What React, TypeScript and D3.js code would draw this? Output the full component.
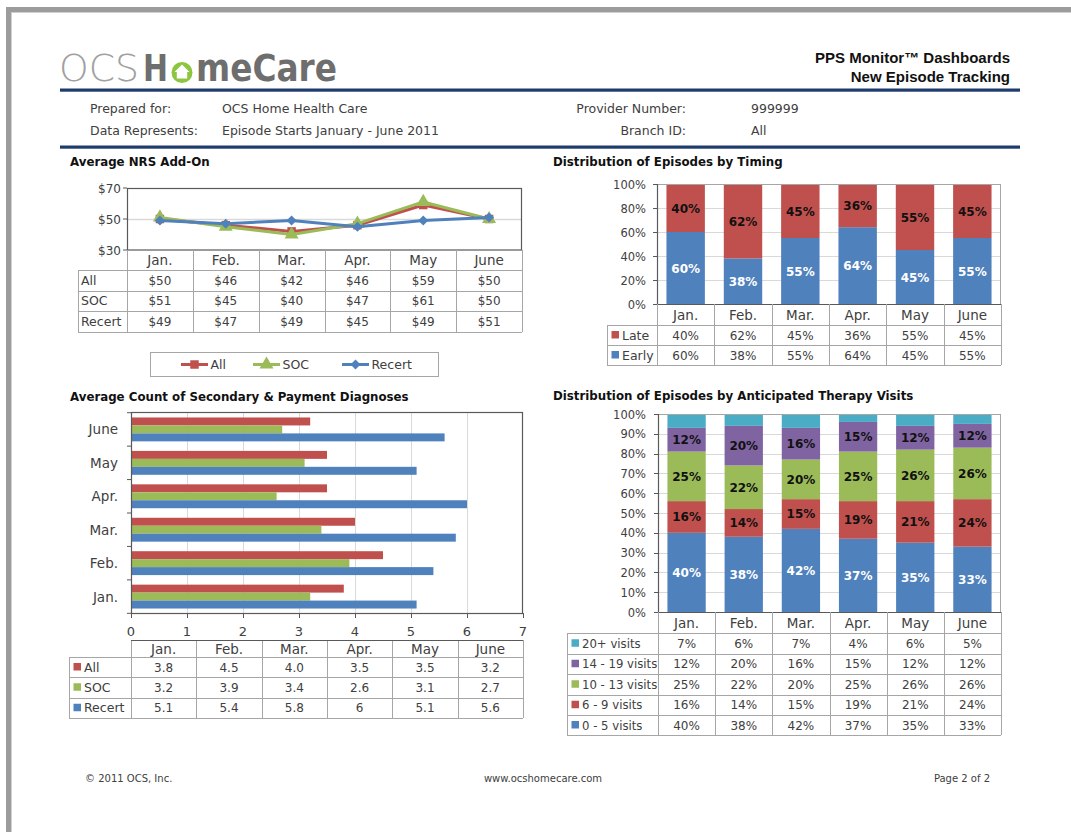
import React from 'react';
import * as d3 from 'd3';

const months = ['Jan.', 'Feb.', 'Mar.', 'Apr.', 'May', 'June'];

const nrsAll = [50, 46, 42, 46, 59, 50];
const nrsSOC = [51, 45, 40, 47, 61, 50];
const nrsRecert = [49, 47, 49, 45, 49, 51];
const nrsTicks = [30, 50, 70];

const timingLate = [40, 62, 45, 36, 55, 45];
const timingEarly = [60, 38, 55, 64, 45, 55];
const timingTicks = [0, 20, 40, 60, 80, 100];

const diagAll = [3.8, 4.5, 4.0, 3.5, 3.5, 3.2];
const diagSOC = [3.2, 3.9, 3.4, 2.6, 3.1, 2.7];
const diagRecert = [5.1, 5.4, 5.8, 6, 5.1, 5.6];
const diagTicks = [0, 1, 2, 3, 4, 5, 6, 7];

const visits0to5 = [40, 38, 42, 37, 35, 33];
const visits6to9 = [16, 14, 15, 19, 21, 24];
const visits10to13 = [25, 22, 20, 25, 26, 26];
const visits14to19 = [12, 20, 16, 15, 12, 12];
const visits20plus = [7, 6, 7, 4, 6, 5];
const therapyTicks = [0, 10, 20, 30, 40, 50, 60, 70, 80, 90, 100];

const RED = '#c0504d';
const GREEN = '#9bbb59';
const BLUE = '#4f81bd';
const PURPLE = '#8064a2';
const TEAL = '#4bacc6';
const FONT = '"DejaVu Sans", sans-serif';
const TXT = '#404040';
const GRID = '#d9d9d9';
const TLINE = '#a6a6a6';
const AXIS = '#595959';

type Row = { label: string; color?: string; values: string[] };

function DataTable(p: {
  labelX: number; x0: number; x1: number; top: number; bounds: number[];
  rows: Row[]; topLine?: boolean; labelSize?: number;
}) {
  const n = months.length;
  const step = (p.x1 - p.x0) / n;
  const last = p.bounds[p.bounds.length - 1];
  const els: any[] = [];
  for (let i = 0; i <= n; i++) {
    const x = Math.round(p.x0 + i * step) + 0.5;
    els.push(<line key={'v' + i} x1={x} x2={x} y1={p.top} y2={last} stroke={TLINE} />);
  }
  els.push(<line key="vl" x1={p.labelX + 0.5} x2={p.labelX + 0.5} y1={p.bounds[0]} y2={last} stroke={TLINE} />);
  p.bounds.forEach((b, i) => {
    els.push(<line key={'h' + i} x1={p.labelX} x2={p.x1} y1={Math.round(b) + 0.5} y2={Math.round(b) + 0.5} stroke={TLINE} />);
  });
  if (p.topLine) {
    els.push(<line key="ht" x1={p.x0} x2={p.x1} y1={Math.round(p.top) + 0.5} y2={Math.round(p.top) + 0.5} stroke={AXIS} />);
  }
  months.forEach((m, i) => {
    els.push(
      <text key={'m' + i} x={p.x0 + (i + 0.5) * step} y={(p.top + p.bounds[0]) / 2 + 5}
        textAnchor="middle" fontSize={13.5} fill={TXT}>{m}</text>
    );
  });
  p.rows.forEach((r, ri) => {
    const cy = (p.bounds[ri] + p.bounds[ri + 1]) / 2;
    if (r.color) {
      els.push(<rect key={'s' + ri} x={p.labelX + 4.5} y={cy - 4} width={7.5} height={7.5} fill={r.color} />);
    }
    els.push(
      <text key={'l' + ri} x={p.labelX + (r.color ? 15 : 3)} y={cy + 4.5} fontSize={p.labelSize || 12.5} fill={TXT}>{r.label}</text>
    );
    r.values.forEach((v, i) => {
      els.push(
        <text key={'c' + ri + '_' + i} x={p.x0 + (i + 0.5) * step} y={cy + 4.5}
          textAnchor="middle" fontSize={12} fill={TXT}>{v}</text>
      );
    });
  });
  return <g>{els}</g>;
}

function NrsChart() {
  const x = d3.scaleBand<string>().domain(months).range([127, 522]);
  const y = d3.scaleLinear().domain([30, 70]).range([250, 188]);
  const cx = (i: number) => (x(months[i]) as number) + x.bandwidth() / 2;
  const line = d3.line<number>().x((_, i) => cx(i)).y(d => y(d));
  const series = [
    { name: 'All', values: nrsAll, color: RED, sym: d3.symbol().type(d3.symbolSquare).size(72)(), rot: 0 },
    { name: 'SOC', values: nrsSOC, color: GREEN, sym: d3.symbol().type(d3.symbolTriangle).size(85)(), rot: 0 },
    { name: 'Recert', values: nrsRecert, color: BLUE, sym: d3.symbol().type(d3.symbolSquare).size(50)(), rot: 45 },
  ];
  const fmt = (v: number) => '$' + v;
  const legendX = [181, 253, 342];
  return (
    <g>
      <text x={70} y={166} fontSize={11.8} fontWeight="bold" fill="#111">Average NRS Add-On</text>
      {nrsTicks.filter(t => t > 30 && t < 70).map(t => (
        <line key={t} x1={127} x2={522} y1={Math.round(y(t)) + 0.5} y2={Math.round(y(t)) + 0.5} stroke={GRID} strokeWidth={1.5} />
      ))}
      <rect x={127.5} y={188.5} width={394} height={61.5} fill="none" stroke={AXIS} strokeWidth={1.2} />
      {nrsTicks.map(t => (
        <g key={'t' + t}>
          <line x1={123} x2={127} y1={y(t)} y2={y(t)} stroke={AXIS} />
          <text x={121} y={y(t) + 4.5} textAnchor="end" fontSize={12} fill={TXT}>{fmt(t)}</text>
        </g>
      ))}
      {series.map(s => (
        <g key={s.name}>
          <path d={line(s.values) as string} fill="none" stroke={s.color} strokeWidth={3} strokeLinejoin="round" />
          {s.values.map((v, i) => (
            <path key={i} d={s.sym as string} transform={`translate(${cx(i)},${y(v)}) rotate(${s.rot})`} fill={s.color} />
          ))}
        </g>
      ))}
      <DataTable labelX={78} x0={127} x1={522} top={250} bounds={[270, 290.5, 311, 332]}
        rows={[
          { label: 'All', values: nrsAll.map(fmt) },
          { label: 'SOC', values: nrsSOC.map(fmt) },
          { label: 'Recert', values: nrsRecert.map(fmt) },
        ]} />
      <rect x={150.5} y={352.5} width={288} height={24} fill="#fff" stroke={TLINE} />
      {series.map((s, k) => (
        <g key={'lg' + s.name}>
          <line x1={legendX[k]} x2={legendX[k] + 27} y1={364.5} y2={364.5} stroke={s.color} strokeWidth={3} />
          <path d={s.sym as string} transform={`translate(${legendX[k] + 13.5},364.5) rotate(${s.rot})`} fill={s.color} />
          <text x={legendX[k] + 29.5} y={369} fontSize={12.5} fill={TXT}>{s.name}</text>
        </g>
      ))}
    </g>
  );
}

function TimingChart() {
  const x = d3.scaleBand<string>().domain(months).range([657, 1001]).paddingInner(0.33).paddingOuter(0.165);
  const y = d3.scaleLinear().domain([0, 100]).range([304, 184]);
  return (
    <g>
      <text x={553} y={166} fontSize={11.8} fontWeight="bold" fill="#111">Distribution of Episodes by Timing</text>
      {timingTicks.filter(t => t > 0 && t < 100).map(t => (
        <line key={t} x1={657} x2={1001} y1={Math.round(y(t)) + 0.5} y2={Math.round(y(t)) + 0.5} stroke={GRID} />
      ))}
      {months.map((m, i) => {
        const bx = x(m) as number;
        const e = timingEarly[i];
        const l = timingLate[i];
        return (
          <g key={m}>
            <rect x={bx} y={y(e)} width={x.bandwidth()} height={y(0) - y(e)} fill={BLUE} />
            <rect x={bx} y={y(e + l)} width={x.bandwidth()} height={y(e) - y(e + l)} fill={RED} />
            <text x={bx + x.bandwidth() / 2} y={y(e / 2) + 4.5} textAnchor="middle" fontSize={12} fontWeight="bold" fill="#fff">{e}%</text>
            <text x={bx + x.bandwidth() / 2} y={y(e + l / 2) + 4.5} textAnchor="middle" fontSize={12} fontWeight="bold" fill="#111">{l}%</text>
          </g>
        );
      })}
      <line x1={657} x2={1001} y1={184.5} y2={184.5} stroke="#a6a6a6" />
      <line x1={1000.5} x2={1000.5} y1={184} y2={304} stroke="#a6a6a6" />
      <line x1={657.5} x2={657.5} y1={184} y2={304} stroke={AXIS} strokeWidth={1.2} />
      <line x1={657} x2={1001} y1={304.5} y2={304.5} stroke={AXIS} strokeWidth={1.2} />
      {timingTicks.map(t => (
        <g key={'t' + t}>
          <line x1={653} x2={657} y1={Math.round(y(t)) + 0.5} y2={Math.round(y(t)) + 0.5} stroke={AXIS} />
          <text x={646} y={y(t) + 4.5} textAnchor="end" fontSize={11.5} fill={TXT}>{t}%</text>
        </g>
      ))}
      <DataTable labelX={607} x0={657} x1={1001} top={304} bounds={[325, 345, 365]}
        rows={[
          { label: 'Late', color: RED, values: timingLate.map(v => v + '%') },
          { label: 'Early', color: BLUE, values: timingEarly.map(v => v + '%') },
        ]} />
    </g>
  );
}

function DiagChart() {
  const cats = months.slice().reverse();
  const y = d3.scaleBand<string>().domain(cats).range([412.7, 613.3]);
  const sub = d3.scaleBand<string>().domain(['All', 'SOC', 'Recert']).range([0, y.bandwidth()]).paddingOuter(0.6);
  const x = d3.scaleLinear().domain([0, 7]).range([131, 523]);
  const series = [
    { name: 'All', values: diagAll, color: RED, fmt: d3.format('.1f') },
    { name: 'SOC', values: diagSOC, color: GREEN, fmt: (v: number) => String(v) },
    { name: 'Recert', values: diagRecert, color: BLUE, fmt: (v: number) => String(v) },
  ];
  return (
    <g>
      <text x={70} y={401} fontSize={11.8} fontWeight="bold" fill="#111">Average Count of Secondary &amp; Payment Diagnoses</text>
      {diagTicks.filter(t => t > 0 && t < 7).map(t => (
        <line key={t} x1={Math.round(x(t)) + 0.5} x2={Math.round(x(t)) + 0.5} y1={412.7} y2={613.3} stroke={GRID} />
      ))}
      {months.map((m, i) => (
        <g key={m}>
          {series.map(s => (
            <rect key={s.name} x={x(0)} y={(y(m) as number) + (sub(s.name) as number)} width={x(s.values[i]) - x(0)}
              height={sub.bandwidth()} fill={s.color} />
          ))}
        </g>
      ))}
      <rect x={131.5} y={412.5} width={391} height={201} fill="none" stroke={AXIS} strokeWidth={1.2} />
      {cats.map(c => (
        <g key={'yt' + c}>
          <line x1={127} x2={131} y1={y(c) as number} y2={y(c) as number} stroke={AXIS} />
          <text x={118} y={(y(c) as number) + y.bandwidth() / 2 + 5} textAnchor="end" fontSize={13.5} fill={TXT}>{c}</text>
        </g>
      ))}
      <line x1={127} x2={131} y1={613.3} y2={613.3} stroke={AXIS} />
      {diagTicks.map(t => (
        <g key={'xt' + t}>
          <line x1={Math.round(x(t)) + 0.5} x2={Math.round(x(t)) + 0.5} y1={613} y2={618} stroke={AXIS} />
          <text x={x(t)} y={636} textAnchor="middle" fontSize={13} fill={TXT}>{t}</text>
        </g>
      ))}
      <DataTable labelX={69} x0={131} x1={523} top={640} bounds={[657, 677, 697.5, 718]} topLine
        rows={series.map(s => ({ label: s.name, color: s.color, values: s.values.map(v => s.fmt(v)) }))} />
    </g>
  );
}

function TherapyChart() {
  const x = d3.scaleBand<string>().domain(months).range([658, 1001]).paddingInner(0.33).paddingOuter(0.165);
  const y = d3.scaleLinear().domain([0, 100]).range([612, 414]);
  const series = [
    { name: '0 - 5 visits', values: visits0to5, color: BLUE, lab: '#fff' },
    { name: '6 - 9 visits', values: visits6to9, color: RED, lab: '#111' },
    { name: '10 - 13 visits', values: visits10to13, color: GREEN, lab: '#111' },
    { name: '14 - 19 visits', values: visits14to19, color: PURPLE, lab: '#111' },
    { name: '20+ visits', values: visits20plus, color: TEAL, lab: '' },
  ];
  const table = months.map((_, i) => {
    const o: any = { month: months[i] };
    series.forEach(s => { o[s.name] = s.values[i]; });
    return o;
  });
  const stack = d3.stack<any>().keys(series.map(s => s.name))(table);
  return (
    <g>
      <text x={553} y={400} fontSize={11.8} fontWeight="bold" fill="#111">Distribution of Episodes by Anticipated Therapy Visits</text>
      {therapyTicks.filter(t => t > 0 && t < 100).map(t => (
        <line key={t} x1={658} x2={1001} y1={Math.round(y(t)) + 0.5} y2={Math.round(y(t)) + 0.5} stroke={GRID} />
      ))}
      {stack.map((layer, k) => (
        <g key={layer.key}>
          {layer.map((d, i) => {
            const bx = x(months[i]) as number;
            return (
              <g key={i}>
                <rect x={bx} y={y(d[1])} width={x.bandwidth()} height={y(d[0]) - y(d[1])} fill={series[k].color} />
                {series[k].lab && (
                  <text x={bx + x.bandwidth() / 2} y={y((d[0] + d[1]) / 2) + 4.5} textAnchor="middle"
                    fontSize={12} fontWeight="bold" fill={series[k].lab}>{series[k].values[i]}%</text>
                )}
              </g>
            );
          })}
        </g>
      ))}
      <line x1={658} x2={1001} y1={414.5} y2={414.5} stroke="#a6a6a6" />
      <line x1={1000.5} x2={1000.5} y1={414} y2={612} stroke="#a6a6a6" />
      <line x1={658.5} x2={658.5} y1={414} y2={612} stroke={AXIS} strokeWidth={1.2} />
      <line x1={658} x2={1001} y1={612.5} y2={612.5} stroke={AXIS} strokeWidth={1.2} />
      {therapyTicks.map(t => (
        <g key={'t' + t}>
          <line x1={654} x2={658} y1={Math.round(y(t)) + 0.5} y2={Math.round(y(t)) + 0.5} stroke={AXIS} />
          <text x={646} y={y(t) + 4.5} textAnchor="end" fontSize={11.5} fill={TXT}>{t}%</text>
        </g>
      ))}
      <DataTable labelX={567} x0={658} x1={1001} top={612} bounds={[633, 653.5, 674, 694.5, 715, 735]} labelSize={11.7}
        rows={series.slice().reverse().map(s => ({ label: s.name, color: s.color, values: s.values.map(v => v + '%') }))} />
    </g>
  );
}

export default function App() {
  return (
    <svg width={1071} height={832} style={{ position: 'absolute', left: 0, top: 0, background: '#fff' }} fontFamily={FONT}>
      <rect x={0} y={0} width={1071} height={832} fill="#fff" />
      {/* page frame */}
      <rect x={6} y={7} width={1065} height={5} fill="#9c9c9c" />
      <rect x={6} y={7} width={5} height={825} fill="#9c9c9c" />
      <line x1={11} x2={1071} y1={12.5} y2={12.5} stroke="#d0d0d0" />
      <line x1={11.5} x2={11.5} y1={12} y2={832} stroke="#d0d0d0" />

      {/* logo */}
      <text x={59} y={81} fontSize={37} fontWeight={200} fill="#a0a0a0" textLength={80} lengthAdjust="spacingAndGlyphs">OCS</text>
      <text x={143} y={81} fontSize={37} fontWeight="bold" fill="#6e6e6e" textLength={25} lengthAdjust="spacingAndGlyphs">H</text>
      <circle cx={182} cy={72.5} r={10.5} fill="#8cc63f" />
      <polygon points="182,64.5 189.5,72 187.2,72 187.2,78.5 176.8,78.5 176.8,72 174.5,72" fill="#fff" />
      <text x={196} y={81} fontSize={37} fontWeight="bold" fill="#6e6e6e" textLength={141} lengthAdjust="spacingAndGlyphs">meCare</text>

      <text x={1010} y={63} textAnchor="end" fontSize={15} fontWeight="bold" fill="#111" fontFamily='"Liberation Sans", sans-serif'>PPS Monitor™ Dashboards</text>
      <text x={1010} y={82} textAnchor="end" fontSize={15} fontWeight="bold" fill="#111" fontFamily='"Liberation Sans", sans-serif'>New Episode Tracking</text>
      <rect x={60} y={88.5} width={960} height={3.2} fill="#1f3b6e" />

      <g fontSize={12.5} fill={TXT}>
        <text x={90} y={113}>Prepared for:</text>
        <text x={222} y={113}>OCS Home Health Care</text>
        <text x={90} y={135}>Data Represents:</text>
        <text x={222} y={135}>Episode Starts January - June 2011</text>
        <text x={686} y={113} textAnchor="end">Provider Number:</text>
        <text x={751} y={113}>999999</text>
        <text x={686} y={135} textAnchor="end">Branch ID:</text>
        <text x={751} y={135}>All</text>
      </g>
      <rect x={60} y={145.5} width={960} height={3.2} fill="#1f3b6e" />

      <NrsChart />
      <TimingChart />
      <DiagChart />
      <TherapyChart />

      <g fontSize={10} fill={TXT}>
        <text x={85} y={782}>© 2011 OCS, Inc.</text>
        <text x={543} y={782} textAnchor="middle">www.ocshomecare.com</text>
        <text x={990} y={782} textAnchor="end">Page 2 of 2</text>
      </g>
    </svg>
  );
}
